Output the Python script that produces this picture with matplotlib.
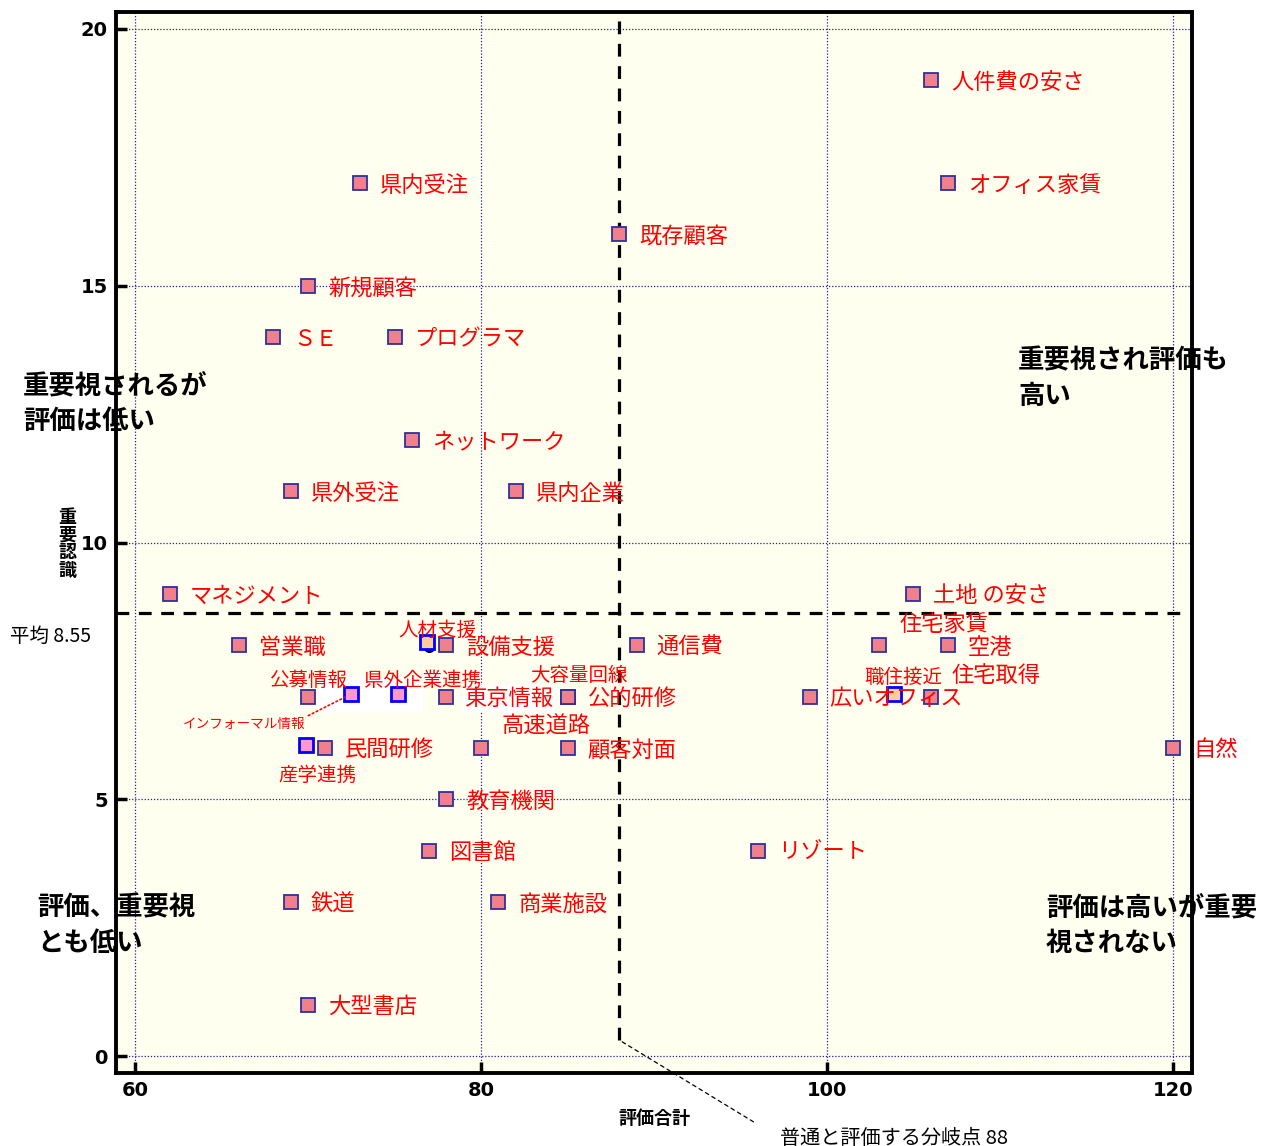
import numpy as np
import matplotlib
matplotlib.use("Agg")
import matplotlib.pyplot as plt
from matplotlib.patches import Rectangle

plt.rcParams['font.family'] = ['Noto Sans CJK JP', 'DejaVu Sans']

# regular points
names = ['人件費の安さ', 'オフィス家賃', '県内受注', '既存顧客', '新規顧客', 'ＳＥ', 'プログラマ',
         'ネットワーク', '県外受注', '県内企業', 'マネジメント', '土地 の安さ', '営業職', '設備支援',
         '通信費', '住宅家賃', '空港', '公募情報', '東京情報', '公的研修', '大容量回線', '広いオフィス',
         '住宅取得', '高速道路', '民間研修', '顧客対面', '自然', '教育機関', '図書館', 'リゾート',
         '鉄道', '商業施設', '大型書店']
xs = [106, 107, 73, 88, 70, 68, 75, 76, 69, 82, 62, 105, 66, 78, 89, 103, 107, 70, 78, 85, 85, 99,
      106, 80, 71, 85, 120, 78, 77, 96, 69, 81, 70]
ys = [19, 17, 17, 16, 15, 14, 14, 12, 11, 11, 9, 9, 8, 8, 8, 8, 8, 7, 7, 7, 7, 7,
      7, 6, 6, 6, 6, 5, 4, 4, 3, 3, 1]

# highlighted points (blue edge)
pink_names = ['インフォーマル情報', '県外企業連携', '産学連携']
pink_x = [72.5, 75.2, 69.9]
pink_y = [7.05, 7.05, 6.05]
orange_names = ['人材支援', '職住接近']
orange_x = [76.9, 103.9]
orange_y = [8.06, 7.05]
black_x = [77.0]
black_y = [7.97]

mean_y = 8.62   # where the dashed line is drawn
mean_label = '平均 8.55'
split_x = 88
xticks = [60, 80, 100, 120]
yticks = [0, 5, 10, 15, 20]

fig = plt.figure(figsize=(12.69, 11.46), dpi=100)
ax = fig.add_axes([116 / 1269, 1 - 1073 / 1146, (1192 - 116) / 1269, (1073 - 12) / 1146])
ax.set_facecolor('#FFFFF0')
ax.set_xlim(58.9, 121.1)
ax.set_ylim(-0.33, 20.33)
ax.set_xticks(xticks)
ax.set_yticks(yticks)
ax.grid(True, color='#2020A0', linestyle=(0, (1, 1.5)), linewidth=0.9)
ax.set_axisbelow(True)
for s in ax.spines.values():
    s.set_linewidth(2.8)
ax.tick_params(direction='in', length=8, width=2.5, labelsize=14, pad=6)
for lab in ax.get_xticklabels() + ax.get_yticklabels():
    lab.set_fontweight('bold')
    lab.set_family(['DejaVu Sans'])

# white patch behind the blue squares
ax.add_patch(Rectangle((min(pink_x[:2]) - 2.0, pink_y[0] - 0.36), max(pink_x[:2]) - min(pink_x[:2]) + 3.45, 0.7,
                       facecolor='white', edgecolor='none', zorder=1))

ax.axhline(mean_y, xmax=0.995, color='black', linestyle=(0, (4, 3)), linewidth=2.3, zorder=2)
ax.axvline(split_x, ymin=0.031, color='black', linestyle=(0, (4, 3)), linewidth=2.3, zorder=2)

ax.plot(black_x, black_y, 'o', color='black', markersize=7, zorder=3)
ax.plot(xs, ys, 's', markersize=9.4, markerfacecolor='#F0808C', markeredgecolor='#30309A',
        markeredgewidth=1.3, linestyle='none', zorder=4)
ax.plot(pink_x, pink_y, 's', markersize=9.4, markerfacecolor='#FF99CC', markeredgecolor='#0000FF',
        markeredgewidth=2, linestyle='none', zorder=4)
ax.plot(orange_x, orange_y, 's', markersize=9.4, markerfacecolor='#FFCC99', markeredgecolor='#0000FF',
        markeredgewidth=2, linestyle='none', zorder=4)

# label offsets in pixels (dx, dy, fontsize, ha)
special = {
    '住宅家賃': (65, 21, 16, 'center'),
    '公募情報': (0, 16, 14, 'center'),
    '大容量回線': (11, 21, 14, 'center'),
    '住宅取得': (65, 21, 16, 'center'),
    '高速道路': (65, 22, 16, 'center'),
    '東京情報': (18, -2, 16, 'left'),
}
for n, x, y in zip(names, xs, ys):
    dx, dy, fs, ha = special.get(n, (20, -2, 16, 'left'))
    bbox = None
    if n == '東京情報':
        bbox = dict(facecolor='white', edgecolor='none', pad=1.5)
    ax.annotate(n, (x, y), xytext=(dx, dy), textcoords='offset pixels', color='#FF0000',
                fontsize=fs, ha=ha, va='center', bbox=bbox, zorder=5)

small_offsets = {
    '県外企業連携': (25, 14, 14),
    '産学連携': (11, -30, 14),
    '人材支援': (10, 12, 14),
    '職住接近': (9, 17, 14),
}
for n, x, y in zip(pink_names + orange_names, pink_x + orange_x, pink_y + orange_y):
    if n == 'インフォーマル情報':
        ax.annotate(n, (x, y), xytext=(-107, -30), textcoords='offset pixels', color='#FF0000',
                    fontsize=9.8, ha='center', va='center', zorder=5,
                    arrowprops=dict(arrowstyle='-', color='red', linestyle=':', linewidth=1.2,
                                    relpos=(1, 1), shrinkA=0, shrinkB=5))
    else:
        dx, dy, fs = small_offsets[n]
        ax.annotate(n, (x, y), xytext=(dx, dy), textcoords='offset pixels', color='#FF0000',
                    fontsize=fs, ha='center', va='center', zorder=5)

# axis labels
ax.set_xlabel('評価合計', fontsize=13, fontweight='bold', labelpad=6)
fig.text(67 / 1269, 1 - 544 / 1146, '\n'.join('重要認識'), fontsize=13, fontweight='bold',
         ha='center', va='center', linespacing=0.9)
fig.text(10 / 1269, 1 - 636 / 1146, mean_label, fontsize=14, ha='left', va='center')

# split annotation
ax.annotate('普通と評価する分岐点 88', (split_x, 0.31), xytext=(780, 8), textcoords='figure pixels',
            fontsize=14.5, ha='left', va='center', annotation_clip=False,
            arrowprops=dict(arrowstyle='-', color='black', linestyle=(0, (3, 3)), linewidth=0.9,
                            relpos=(0, 0.5), shrinkA=20, shrinkB=0))

# quadrant notes
quad = [
    (23, 372, '重要視されるが\n評価は低い'),
    (1018, 347, '重要視され評価も\n高い'),
    (37, 894, '評価、重要視\nとも低い'),
    (1046, 894, '評価は高いが重要\n視されない'),
]
for px, py, t in quad:
    fig.text(px / 1269, 1 - py / 1146, t, fontsize=19, fontweight='bold', ha='left', va='top',
             linespacing=1.45, zorder=10)

fig.savefig('out.png', dpi=100)
